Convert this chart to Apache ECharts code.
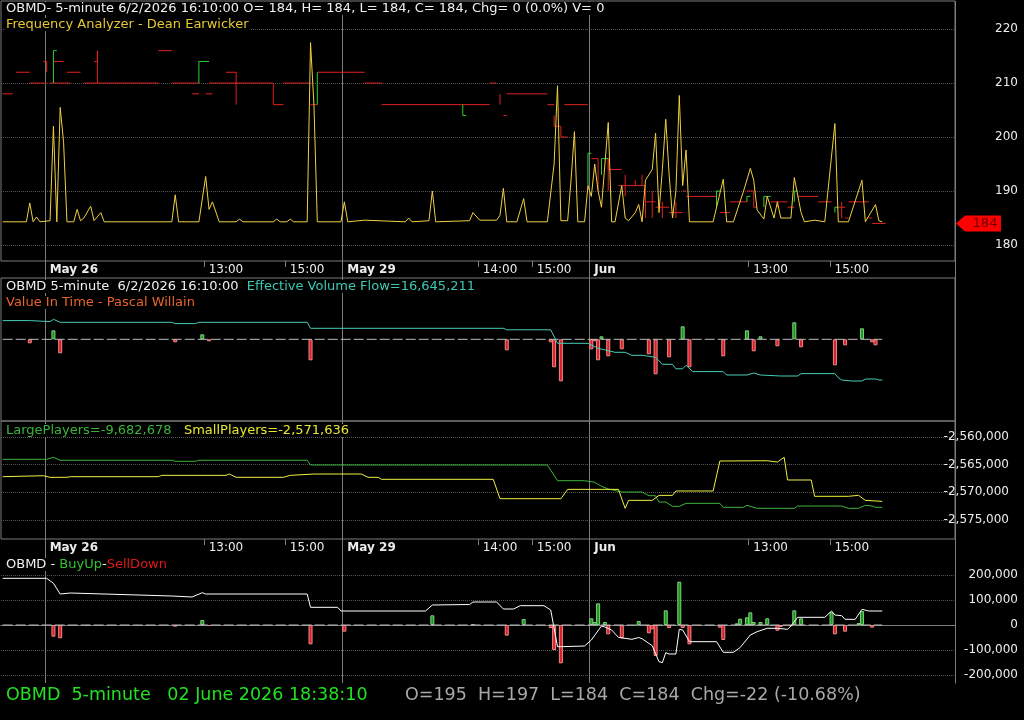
<!DOCTYPE html>
<html>
<head>
<meta charset="utf-8">
<title>OBMD 5-minute</title>
<script src="https://cdn.jsdelivr.net/npm/echarts@6/dist/echarts.min.js"></script>
<style>
  html, body { margin: 0; padding: 0; background: #000; }
  #chart { width: 1024px; height: 720px; }
</style>
</head>
<body>
<div id="chart"></div>
<script>
// ---- x axis: one slot per 5-minute bar ----
const barCount = 282;
const barSlots = Array.from({ length: barCount }, (_, i) => String(i));
const dayTicks = [[13, 'May 26'], [101, 'May 29'], [174, 'Jun']];
const timeTicks = [[60, '13:00'], [84, '15:00'], [141, '14:00'], [157, '15:00'], [221, '13:00'], [245, '15:00']];

// ---- panel 1: Frequency Analyzer ----
const priceLabels = [180, 190, 200, 210, 220];
const lastClose = 184;
const freqLine = [[0,184.3],[7,184.3],[8,187.8],[9,184.3],[10,185.2],[11,184.3],[14,184.5],[15,202],[16,184.3],[17,205.5],[18,199],[19,184.3],
  [21,184.3],[22,186.6],[23,184.5],[24,185],[26,187.2],[27,184.5],[29,186],[30,184.3],[50,184.3],[51,189.3],[52,184.3],[58,184.3],
  [60,192.7],[61,186.6],[62,188],[64,184.3],[69,184.3],[70,184.8],[71,184.3],[80,184.3],[81,184.8],[82,184.3],[84,184.3],[85,184.8],
  [86,184.3],[90,184.3],[91,217.5],[92,206],[93,184.3],[100,184.3],[101,188],[102,184.3],[107,184.6],[119,184.3],[120,185],[121,184.3],
  [126,184.5],[127,190],[128,184.3],[138,184.5],[139,186],[141,184.6],[146,184.6],[147,185.5],[148,190.5],[149,184.3],[152,184.3],
  [154,188.6],[155,184.3],[161,184.3],[163,195],[164,209.5],[165,184.5],[167,184.5],[168,192],[169,201],[170,184.3],[172,184.3],
  [173,191],[174,189],[175,195],[176,190],[177,187],[179,202.7],[180,184.3],[181,184.3],[183,191],[184,185],[185,184.5],[187,186],
  [188,187.5],[189,184.3],[190,192],[192,194],[193,200.7],[194,186],[195,194],[196,203.3],[197,193],[198,185],[199,190],[200,207.7],
  [201,191],[202,197.6],[203,184.3],[210,184.3],[213,192.2],[214,184.3],[216,184.3],[219,190],[221,194.2],[222,192],[223,186.5],
  [225,184.8],[226,189],[228,185],[229,188],[230,185],[233,185],[234,192.5],[236,186],[237,184.3],[240,184.6],[243,184.3],[246,202.5],
  [247,184.3],[250,184.3],[254,192],[255,184.3],[258,187.5],[259,184.5],[260,184.3]];
const redSteps = [
  [[0,208],[3,208]], [[4,212],[8,212]], [[8,210],[13,210]], [[12,214],[13,214],[13,212]], [[14,210],[20,210]],
  [[15,214],[18,214]], [[19,212],[23,212]], [[24,210],[28,210]], [[27,214],[28,214],[28,216],[28,210],[46,210]],
  [[46,216],[50,216]], [[50,210],[58,210]], [[56,208],[58,208]], [[60,208],[62,208]],
  [[61,210],[80,210],[80,206],[83,206]], [[66,212],[69,212],[69,206]], [[83,210],[91,210]], [[91,206],[93,206]],
  [[93,212],[107,212]], [[107,210],[112,210]], [[112,206],[144,206]], [[144,210],[146,210]], [[147,208],[147,206]],
  [[148,204],[149,204]], [[149,208],[161,208]], [[161,206],[163,206]], [[163,204],[163,202],[165,202],[165,200],[167,200]],
  [[166,206],[173,206]], [[174,196],[176,196],[176,190]], [[179,190],[179,196],[179,194],[183,194]], [[182,191],[190,191]],
  [[184,193],[184,189]], [[187,192],[187,191]], [[189,193],[189,191]], [[190,191],[190,185]], [[190,188],[193,188]],
  [[192,190],[192,185]], [[193,187],[197,187]], [[195,188],[195,185]], [[197,186],[201,186]], [[199,188],[199,185]],
  [[201,190],[202,190]], [[202,189],[211,189]], [[212,186],[215,186]], [[215,188],[220,188]],
  [[220,190],[222,190],[222,187],[223,187]], [[227,188],[232,188]], [[229,188],[229,187]], [[232,187],[234,187]],
  [[235,189],[241,189]], [[241,188],[245,188]], [[247,187],[249,187]], [[248,188],[248,185]], [[249,185],[250,185]],
  [[250,188],[256,188]], [[256,185],[257,185]], [[257,184],[261,184]]
];
const greenSteps = [
  [[15,210],[15,216],[16,216]], [[58,210],[58,214],[61,214]], [[93,206],[93,212]], [[136,206],[136,204],[137,204]],
  [[173,191],[173,197],[174,197]], [[177,193],[177,196],[179,196]], [[211,187],[211,190],[212,190]],
  [[220,188],[220,189],[221,189]], [[225,187],[225,189],[227,189]], [[234,188],[234,190],[235,190]],
  [[246,186],[246,187],[247,187]]
];

// ---- panel 2: Effective Volume Flow / Value In Time ----
const flowLine = [[0,18700],[8,18700],[14,17700],[15,20000],[17,17000],[50,17000],[51,15700],[57,15700],[58,17000],[90,17000],
  [91,11000],[148,11000],[149,9500],[162,9500],[164,-4000],[173,-4000],[176,-9000],[181,-13000],[184,-13000],[186,-16000],
  [189,-16000],[191,-17000],[193,-18000],[195,-25000],[198,-25000],[199,-29500],[201,-29500],[202,-26000],[204,-32300],
  [213,-32300],[214,-35700],[220,-35700],[222,-33700],[224,-35700],[230,-36700],[235,-36700],[236,-34300],[246,-34300],
  [247,-38500],[248,-40700],[251,-41700],[254,-41700],[255,-39700],[258,-39700],[259,-40700],[260,-40700]];
const valueUp = [[15,9000],[59,5000],[177,3000],[201,13000],[220,9000],[224,3000],[234,17000],[254,11000]];
const valueDown = [[8,-4000],[17,-14000],[51,-3000],[61,-2000],[91,-21000],[149,-11000],[162,-3000],[163,-28000],[165,-42000],
  [174,-10000],[175,-2000],[176,-21000],[179,-17000],[183,-10000],[191,-15000],[193,-35000],[197,-18000],[203,-28000],
  [213,-17000],[222,-12000],[229,-7000],[236,-8000],[246,-26000],[249,-6000],[257,-3000],[258,-6000]];

// ---- panel 3: Large / Small players ----
const playersLabels = [-2560000, -2565000, -2570000, -2575000];
const largePlayers = [[0,-2564030],[13,-2564030],[15,-2563670],[17,-2564200],[50,-2564200],[51,-2564390],[57,-2564390],
  [58,-2564200],[90,-2564200],[91,-2565060],[161,-2565060],[164,-2567900],[172,-2567900],[175,-2568190],[177,-2568910],
  [179,-2569400],[183,-2569940],[189,-2569940],[191,-2570610],[193,-2570610],[194,-2571750],[196,-2571750],[198,-2572530],
  [200,-2572530],[202,-2571990],[212,-2571990],[213,-2572710],[219,-2572710],[220,-2572350],[223,-2572890],[234,-2572890],
  [235,-2572470],[248,-2572470],[250,-2572890],[253,-2572890],[255,-2572350],[257,-2572470],[258,-2572710],[260,-2572710]];
const smallPlayers = [[0,-2567170],[12,-2567000],[14,-2567290],[19,-2567290],[20,-2567170],[46,-2567170],[47,-2566930],
  [66,-2566930],[67,-2566690],[69,-2567290],[83,-2567290],[85,-2566930],[92,-2566690],[106,-2566690],[108,-2567290],
  [111,-2567290],[112,-2567650],[145,-2567650],[147,-2571150],[165,-2571150],[167,-2569460],[182,-2569460],[184,-2572890],
  [185,-2571450],[192,-2571450],[194,-2570550],[198,-2570550],[199,-2569760],[210,-2569760],[212,-2564340],[226,-2564290],
  [229,-2564520],[231,-2563670],[232,-2567770],[239,-2567770],[240,-2570720],[250,-2570720],[253,-2570540],[255,-2571450],
  [260,-2571636]];

// ---- panel 4: BuyUp - SellDown ----
const buySellLabels = [200000, 100000, 0, -100000, -200000];
const buySellLine = [[0,186700],[13,186700],[15,166700],[17,124000],[20,128000],[50,116000],[56,112000],[59,129300],[60,124000],
  [90,124000],[91,70700],[99,70700],[100,56000],[125,56000],[127,80000],[138,82000],[139,92000],[146,92000],[148,64000],
  [151,64000],[153,77300],[160,77300],[162,60000],[164,-86700],[165,-86700],[172,-84000],[174,-60000],[177,-4000],[178,-8000],
  [180,-20000],[182,-49300],[186,-57300],[188,-50000],[189,-55000],[192,-82700],[194,-146700],[195,-150700],[196,-110700],
  [197,-116000],[199,-116000],[200,-17300],[201,-20000],[203,-66700],[211,-66700],[213,-109300],[216,-109300],[218,-90000],
  [221,-40000],[223,-26700],[226,-13300],[229,-13300],[232,-17300],[233,-4000],[235,30700],[243,30700],[245,56000],
  [246,40000],[248,37300],[249,22700],[252,22700],[254,62700],[256,56000],[260,56000]];
const buyUp = [[59,20000],[127,38700],[139,4000],[154,24000],[174,26700],[175,12000],[176,86700],[178,12000],[188,16000],
  [196,58700],[200,173300],[217,6700],[218,25300],[220,30700],[221,50700],[222,12000],[224,12000],[226,26700],[234,58700],
  [236,26700],[245,50700],[253,8000],[254,56000]];
const sellDown = [[15,-46700],[17,-53300],[25,-4000],[51,-6700],[61,-4000],[91,-77300],[101,-26700],[149,-42700],[162,-12000],
  [163,-100000],[165,-153300],[179,-37300],[183,-53300],[191,-33300],[192,-17300],[193,-124000],[197,-12000],[201,-12000],
  [203,-77300],[212,-10700],[213,-60000],[229,-22700],[230,-8000],[233,-5000],[246,-37300],[249,-26700],[257,-10700]];
const zeroLine = [[0, 0], [260, 0]];

const FONT = 'DejaVu Sans';
const FRAME = '#7c7c7c';
const GRID_DOT = '#555';
const dayMap = new Map(dayTicks);
const timeMap = new Map(timeTicks);
const isDay = (i) => dayMap.has(i);
const isTime = (i) => timeMap.has(i);

function timeAxis(g) {
  return {
    gridIndex: g, type: 'category', data: barSlots, boundaryGap: true, position: 'bottom',
    axisLine: { show: false },
    axisTick: { show: true, length: 6, interval: isTime, lineStyle: { color: FRAME } },
    axisLabel: { show: true, interval: isTime, formatter: (v) => timeMap.get(Number(v)) || '',
      color: '#ececec', fontFamily: FONT, fontSize: 12, align: 'left', padding: [0, 0, 0, 3], margin: 3 },
    splitLine: { show: false }
  };
}
function dayAxis(g, withLabels, pos) {
  return {
    gridIndex: g, type: 'category', data: barSlots, boundaryGap: true, position: pos || 'bottom',
    axisLine: { show: pos === 'top', lineStyle: { color: FRAME } },
    axisTick: { show: withLabels, length: 17, interval: isDay, lineStyle: { color: FRAME } },
    axisLabel: { show: withLabels, interval: isDay, formatter: (v) => dayMap.get(Number(v)) || '',
      color: '#ececec', fontFamily: FONT, fontSize: 12, fontWeight: 'bold', align: 'left', padding: [0, 0, 0, 3], margin: 3 },
    splitLine: { show: true, interval: isDay, lineStyle: { color: FRAME, width: 1 } }
  };
}
function rightAxis(g, min, max, labels, gridValues, margin, extra) {
  return Object.assign({
    gridIndex: g, type: 'value', position: 'right', min: min, max: max,
    axisLine: { show: false },
    axisTick: { show: false, customValues: gridValues },
    axisLabel: { customValues: labels, color: '#ececec', fontFamily: FONT, fontSize: 12, align: 'right', margin: margin,
      formatter: (v) => v.toLocaleString('en-US') },
    splitLine: { show: true, lineStyle: { color: GRID_DOT, type: 'dotted' } }
  }, extra || {});
}
function stepLines(name, chunks, color) {
  return {
    name: name, type: 'lines', coordinateSystem: 'cartesian2d', xAxisIndex: 0, yAxisIndex: 0,
    polyline: true, silent: true, z: 3,
    lineStyle: { color: color, width: 1, opacity: 1 },
    data: chunks.map((c) => ({ coords: c }))
  };
}
function line(name, data, xi, yi, color, extra) {
  return Object.assign({
    name: name, type: 'line', data: data, xAxisIndex: xi, yAxisIndex: yi,
    showSymbol: false, symbol: 'none', silent: true, animation: false,
    lineStyle: { color: color, width: 1 }
  }, extra || {});
}
function bars(name, data, xi, yi, fill, edge) {
  return {
    name: name, type: 'bar', data: data, xAxisIndex: xi, yAxisIndex: yi, barWidth: 4, barGap: '-100%',
    silent: true, animation: false,
    itemStyle: { color: fill, borderColor: edge, borderWidth: 1 }
  };
}
function label(left, top, text, rich, size) {
  return {
    left: left, top: top, text: text, padding: [0, 2], backgroundColor: '#000',
    textStyle: { fontFamily: FONT, fontSize: size || 13, fontWeight: 'normal', color: '#f0f0f0', rich: rich }
  };
}
const richSize = (c, s) => ({ color: c, fontFamily: FONT, fontSize: s || 13 });

const chart = echarts.init(document.getElementById('chart'));
chart.setOption({
  backgroundColor: '#000',
  animation: false,
  textStyle: { fontFamily: FONT },
  grid: [
    { left: 1, top: 1, width: 954, height: 260, show: true, borderColor: FRAME, borderWidth: 1 },
    { left: 1, top: 278, width: 954, height: 143, show: true, borderColor: FRAME, borderWidth: 1 },
    { left: 1, top: 421, width: 954, height: 118, show: true, borderColor: FRAME, borderWidth: 1 },
    { left: 1, top: 556, width: 954, height: 127, show: false }
  ],
  xAxis: [
    timeAxis(0), dayAxis(0, true),
    dayAxis(1, false),
    timeAxis(2), dayAxis(2, true),
    dayAxis(3, false, 'top')
  ],
  yAxis: [
    rightAxis(0, 177.04, 225.2, priceLabels, priceLabels, 63),
    { gridIndex: 1, type: 'value', min: -81700, max: 61300, show: false, splitLine: { show: false } },
    rightAxis(2, -2578434, -2557108, playersLabels, playersLabels, 54),
    rightAxis(3, -232000, 276000, buySellLabels, [200000, 100000, -100000, -200000], 63,
      { axisLine: { show: true, lineStyle: { color: FRAME } } })
  ],
  title: [
    label(4, 2, 'OBMD- 5-minute 6/2/2026 16:10:00 O= 184, H= 184, L= 184, C= 184, Chg= 0 (0.0%) V= 0'),
    label(4, 18, '{y|Frequency Analyzer - Dean Earwicker}', { y: richSize('#e8c832') }),
    label(4, 280, '{w|OBMD 5-minute  6/2/2026 16:10:00  }{c|Effective Volume Flow=16,645,211}',
      { w: richSize('#f0f0f0'), c: richSize('#3cc8b4') }),
    label(4, 296, '{o|Value In Time - Pascal Willain}', { o: richSize('#e8642a') }),
    label(4, 424, '{g|LargePlayers=-9,682,678}   {y|SmallPlayers=-2,571,636}',
      { g: richSize('#3cb43c'), y: richSize('#e8e830') }),
    label(4, 558, '{w|OBMD - }{g|BuyUp}{w|-}{r|SellDown}',
      { w: richSize('#f0f0f0'), g: richSize('#30c030'), r: richSize('#e01818') }),
    label(4, 686, '{g|OBMD  5-minute   02 June 2026 18:38:10}', { g: richSize('#22e022', 17.5) }, 17.5),
    label(403, 686, '{s|O=195  H=197  L=184  C=184  Chg=-22 (-10.68%)}', { s: richSize('#a8a8a8', 17.5) }, 17.5)
  ],
  series: [
    stepLines('Red steps', redSteps, '#e02020'),
    stepLines('Green steps', greenSteps, '#30d030'),
    line('Frequency Analyzer', freqLine, 0, 0, '#f0d040', { z: 4 }),
    line('Zero', zeroLine, 2, 1, '#bdbdbd', { lineStyle: { color: '#bdbdbd', width: 1, type: [10, 3] } }),
    bars('Value up', valueUp, 2, 1, '#1e961e', '#7fd07f'),
    bars('Value down', valueDown, 2, 1, '#d81e26', '#f08a8a'),
    line('Effective Volume Flow', flowLine, 2, 1, '#46cdb6', { z: 4 }),
    line('LargePlayers', largePlayers, 3, 2, '#3cb43c'),
    line('SmallPlayers', smallPlayers, 3, 2, '#f0f040'),
    line('Zero 2', zeroLine, 5, 3, '#bdbdbd', { lineStyle: { color: '#bdbdbd', width: 1, type: [10, 3] } }),
    bars('BuyUp', buyUp, 5, 3, '#1e961e', '#7fd07f'),
    bars('SellDown', sellDown, 5, 3, '#d81e26', '#f08a8a'),
    line('BuyUp-SellDown', buySellLine, 5, 3, '#ffffff', { z: 4 })
  ]
});

// last-price tag on the price axis, placed through the price scale
const tagY = chart.convertToPixel({ yAxisIndex: 0 }, lastClose);
chart.setOption({
  graphic: [{
    type: 'polygon', silent: true, z: 10,
    shape: { points: [[956, tagY], [965, tagY - 8], [1001, tagY - 8], [1001, tagY + 8], [965, tagY + 8]] },
    style: { fill: '#ff0000' }
  }, {
    type: 'text', silent: true, z: 11, x: 985, y: tagY,
    style: { text: String(lastClose), fill: '#6a0000', font: '13px "DejaVu Sans"', align: 'center', verticalAlign: 'middle' }
  }]
});
</script>
</body>
</html>
